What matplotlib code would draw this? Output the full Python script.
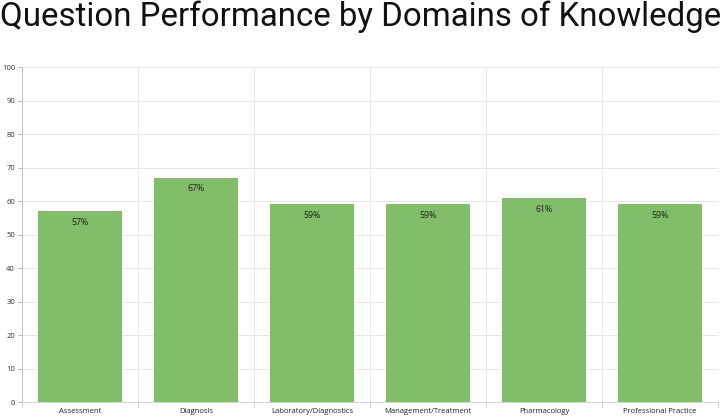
import matplotlib
matplotlib.use("Agg")
import matplotlib.pyplot as plt
import numpy as np

categories = ["Assessment", "Diagnosis", "Laboratory/Diagnostics",
              "Management/Treatment", "Pharmacology", "Professional Practice"]
values = [57, 67, 59, 59, 61, 59]
yticks = [0, 10, 20, 30, 40, 50, 60, 70, 80, 90, 100]
title = "Question Performance by Domains of Knowledge"

W, H = 725, 419
fig = plt.figure(figsize=(W/100, H/100), dpi=100)
ax = fig.add_axes([22/W, 1-402/H, (718-22)/W, (402-67)/H])

x = np.arange(len(categories))
bars = ax.bar(x, values, width=0.72, color="#82bd6a", zorder=2)
for xi, v in zip(x, values):
    ax.annotate(f"{v}%", (xi, v), xytext=(0, -5), textcoords="offset points",
                ha="center", va="top", fontsize=6.3, family="Open Sans", color="#222222")

ax.set_xlim(-0.5, len(categories)-0.5)
ax.set_ylim(0, 100)
ax.set_yticks(yticks)
ax.set_yticklabels([str(t) for t in yticks], fontsize=5.5, family="Open Sans", color="#333333")
ax.set_xticks(x)
ax.set_xticklabels(categories, fontsize=5.5, family="Open Sans", color="#222222")
ax.tick_params(axis="x", length=0, pad=4)
ax.tick_params(axis="y", length=3, width=0.6, color="#aaaaaa", pad=2)

# vertical grid at category boundaries
ax.set_xticks(np.arange(-0.5, len(categories), 1), minor=True)
ax.tick_params(axis="x", which="minor", length=4, width=0.6, color="#cccccc")
ax.grid(True, which="minor", axis="x", color="#e3e3e3", linewidth=0.6, zorder=0)
ax.grid(True, which="major", axis="y", color="#e3e3e3", linewidth=0.6, zorder=0)
ax.grid(False, which="major", axis="x")

for s in ["top", "right"]:
    ax.spines[s].set_visible(False)
ax.spines["left"].set_color("#bbbbbb")
ax.spines["left"].set_linewidth(0.6)
ax.spines["bottom"].set_color("#cccccc")
ax.spines["bottom"].set_linewidth(0.6)

fig.text(0, 1-17/H, title, fontsize=23.8, family="Roboto", ha="left", va="center", color="#111111")

fig.savefig("out.png", dpi=100)
